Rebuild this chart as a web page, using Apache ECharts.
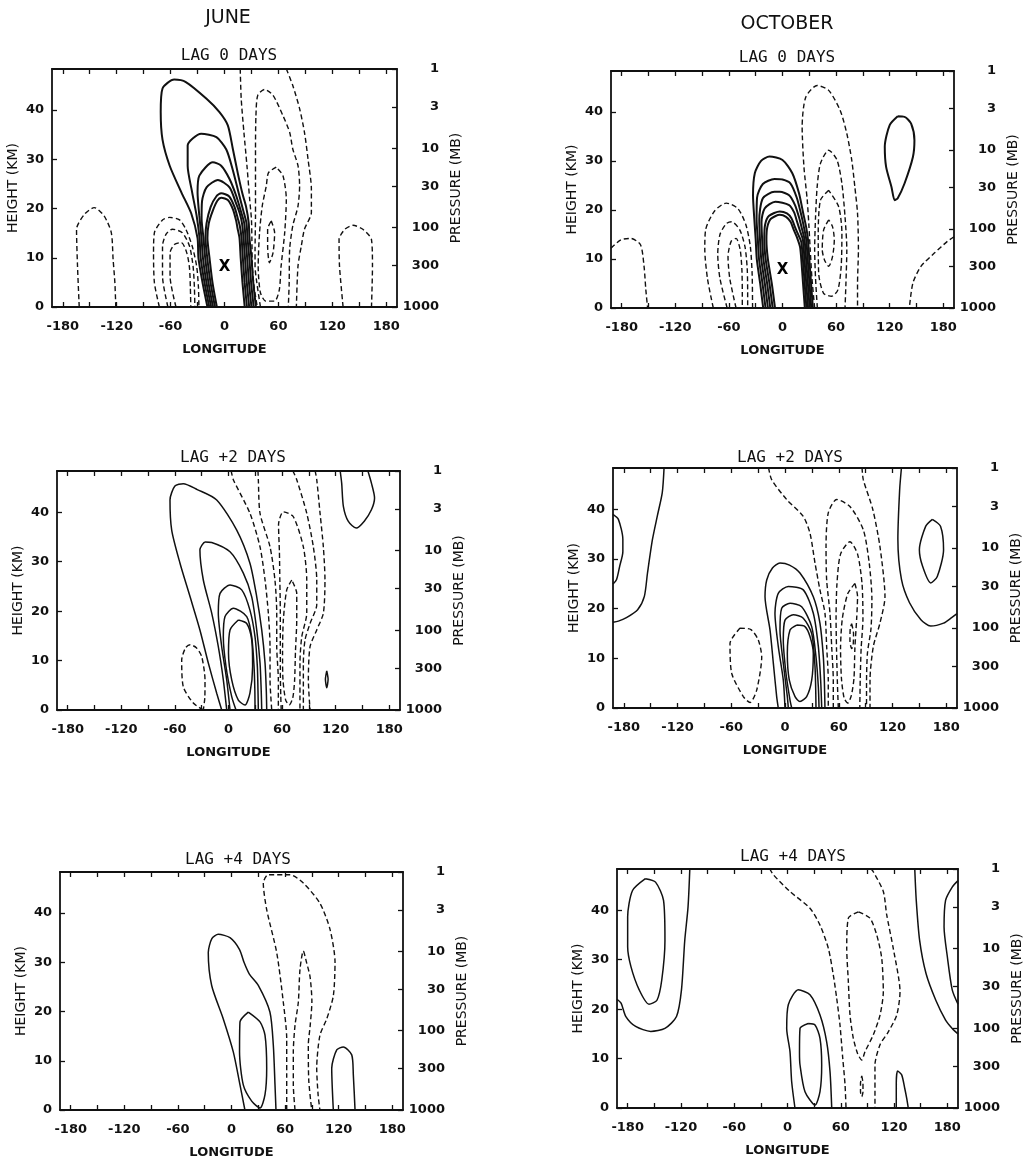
<!DOCTYPE html>
<html>
<head>
<meta charset="utf-8">
<script src="https://cdn.jsdelivr.net/npm/echarts@6/dist/echarts.min.js"></script>
<style>
  html, body { margin: 0; padding: 0; background: #fff; }
  #chart { width: 1032px; height: 1160px; }
</style>
</head>
<body>
<div id="chart"></div>
<script>
// ---------- axis tick values and titles ----------
const lonTicks = [-180, -150, -120, -90, -60, -30, 0, 30, 60, 90, 120, 150, 180];
const lonLabels = [-180, -120, -60, 0, 60, 120, 180];
const heightLabels = [0, 10, 20, 30, 40];
const pressureLabels = [1, 3, 10, 30, 100, 300, 1000];   // mb
const monthTitles = ['JUNE', 'OCTOBER'];
const lagTitles = ['LAG 0 DAYS', 'LAG +2 DAYS', 'LAG +4 DAYS'];

// ---------- contours: [longitude, height km] polylines ----------
// June, lag 0
const junLag0Solid = [
  [[-19,0],[-24.5,5],[-29,10],[-30,14],[-37,19],[-48,23.3],[-61,28.7],[-69,34],[-71,39.6],[-69,44.4],[-56,46.2],[-43,45.7],[-20,42.3],[-5.6,39.6],[3.7,36.9],[9.3,32.1],[15,27],[20,23],[24,20.4],[27,17],[27.8,14],[30,10],[32,5],[35,0]],
  [[-17,0],[-22.3,5],[-26.5,10],[-27.8,14],[-31,18.5],[-36,23.3],[-41,28.7],[-41,32.8],[-26,35.2],[-9,34.5],[2,32],[9,28],[16,23],[21,19.5],[24.5,17],[25.6,14],[27.6,10],[29.6,5],[32.5,0]],
  [[-14.9,0],[-20.1,5],[-24,10],[-25.6,14],[-28,18.5],[-30,23.3],[-28,26.7],[-13,29.4],[-3.7,28.7],[5.6,26],[13,22.6],[19,19],[22,17],[23.4,14],[25.2,10],[27.2,5],[30,0]],
  [[-12.8,0],[-17.9,5],[-21.5,10],[-23.4,14],[-25.5,18],[-25,21.5],[-20,24.3],[-7.4,25.8],[5.6,24.3],[13,21],[17,19],[19.5,17],[21.2,14],[22.8,10],[24.8,5],[27.5,0]],
  [[-10.6,0],[-15.6,5],[-19.2,10],[-21.2,14],[-20,17],[-15.5,20.3],[-9,22.5],[-3.7,23.1],[5,22.5],[11,20.4],[14.8,18],[17,16.5],[19,14],[20.4,10],[22.4,5],[25,0]],
  [[-8.5,0],[-13.4,5],[-16.7,10],[-19,14],[-17.5,17],[-13,19.6],[-8,21.6],[-3.7,22.2],[4,21.7],[9.5,19.8],[13,17.5],[14.5,16],[16.7,14],[18,10],[20,5],[22.5,0]]
];
const junLag0Dashed = [
  [[-161.7,0],[-163.6,8.3],[-164.7,15.8],[-156,18.8],[-145,20.2],[-134,18.5],[-126,15.1],[-124,9.7],[-122,4.9],[-121,0]],
  [[-72.5,0],[-78,4.9],[-79,11],[-78,15.1],[-69,17.7],[-61,18.2],[-50,17.7],[-43,15.8],[-36,12.4],[-31,8.3],[-29,4],[-28.5,0]],
  [[-63,0],[-69,6.3],[-69,12.4],[-65,14.8],[-58,15.8],[-47,15.1],[-39,12.4],[-35,8.3],[-33.5,4],[-33,0]],
  [[-54,0],[-60.6,6.3],[-60.6,11],[-55.8,12.7],[-48,13.1],[-42,11],[-39,8],[-38,4],[-37.5,0]],
  [[17.5,48.4],[18.6,42.3],[21.6,35.5],[25,28.7],[28,21.9],[30,17.8],[30.5,13.7],[31,8.3],[33,4],[36.5,0]],
  [[40,0],[36,4.9],[34,8.3],[34,11.7],[34.5,18.5],[34.5,25.3],[34.5,32.1],[35,38.9],[37,43],[44.6,44.2],[54,43],[65,38.9],[72.5,35.5],[76,32.1],[81.8,28.7],[83.6,24.6],[81.8,20.5],[76,16.5],[72.5,11.7],[72,4.9],[71,0]],
  [[57.6,28.4],[49,27.3],[46.5,24.6],[42,20.5],[39,15.1],[37.5,8.3],[40,2.9],[46,1.2],[55.8,1.2],[61,3.5],[63,8.3],[67,15.1],[68.8,21.9],[65,26.7],[57.6,28.4]],
  [[52,17.5],[55.8,15.1],[54,11],[50,9],[48,12.4],[48,15.8],[52,17.5]],
  [[68.8,48.4],[76,45],[83.6,40.3],[89,35.5],[93,30],[96.7,24],[96.7,19.2],[89,15.8],[85.5,12.4],[81.8,8.3],[80,0]],
  [[132,0],[128,8.3],[127.5,13.7],[134,15.8],[143,16.6],[154,15.8],[163.6,13.7],[164.7,8.3],[163.6,0]]
];
const junLag0Center = [[0, 8.2]];

// October, lag 0
const octLag0Solid = [
  [[-21.6,0],[-25,5],[-28.8,10],[-30,14],[-31.5,18],[-33,23],[-31,27.5],[-24,30],[-14.6,30.9],[0,30.2],[11,27.5],[18.5,23.4],[23,19.5],[26.5,16.5],[28.5,14],[30,10],[32,5],[34,0]],
  [[-19,0],[-22.4,5],[-26.3,10],[-27.6,14],[-29,18],[-28.5,22.5],[-22,25.3],[-9,26.3],[0,26.2],[9,25.4],[16,22.5],[21,19],[24.2,16.3],[26.6,14],[28.2,10],[30.2,5],[32.2,0]],
  [[-16.3,0],[-19.8,5],[-23.8,10],[-25.2,14],[-26,18],[-22,22.4],[-9,23.7],[-3,23.7],[7.4,23],[14,21],[18.5,18.5],[22,16],[24.6,14],[26.4,10],[28.4,5],[30.4,0]],
  [[-13.7,0],[-17.2,5],[-21.4,10],[-22.8,14],[-23.5,17.5],[-20,20.3],[-8,21.7],[7.4,21],[13,19.5],[16.5,17.5],[20,15.5],[22.8,14],[24.6,10],[26.6,5],[28.6,0]],
  [[-11,0],[-14.6,5],[-18.9,10],[-20.4,14],[-19.5,17],[-15,18.8],[-3,19.7],[5,19.3],[10,18.3],[14,16.5],[17.5,15],[21,13.5],[22.8,10],[24.8,5],[26.8,0]],
  [[-8.4,0],[-12,5],[-16.4,10],[-18,14],[-17,16.5],[-13,18.2],[-3,19],[4,18.6],[9,17.6],[12.5,16],[16,14.5],[19.6,12.5],[21,10],[23,5],[25,0]],
  [[129,39.1],[120,37.3],[114.5,32.9],[116,28.8],[122,24.7],[125.6,22],[129,22.4],[136.6,25.4],[146,30.8],[147.7,34.2],[144,37.6],[136.6,39],[129,39.1]]
];
const octLag0Dashed = [
  [[-192,12.2],[-181,13.9],[-170,14.2],[-159,12.9],[-155,8.5],[-153,3.7],[-151,0]],
  [[-77.5,0],[-84,6],[-87,12],[-86,16],[-76,19.8],[-63,21.4],[-50,20.3],[-41,17],[-36,12.5],[-34,7],[-33.5,0]],
  [[-62,0],[-70,6],[-72.5,11],[-70,15],[-63,17.2],[-57,17.6],[-48,16],[-42,12.5],[-39.5,8],[-39,3],[-39,0]],
  [[-52,0],[-59,6],[-61,10.5],[-57.5,13.6],[-52,14.2],[-47.5,12],[-45.5,8],[-45,3],[-45,0]],
  [[36,0],[33,6],[31,12],[29.5,17],[27.7,22],[24,28.8],[22,37],[26,43],[38.8,45.4],[51.7,44.4],[64.6,40.3],[72,35.6],[77.5,30.2],[81,24.7],[84,19.3],[85,11.9],[84,5],[84,0]],
  [[39,0],[37,6],[36,12],[37,18.6],[38.8,24.7],[42.5,29.5],[51.7,32.2],[61,30.2],[66.5,25.4],[70,18.6],[72,11.9],[71,5],[70,0]],
  [[51.7,24],[42.5,22],[40,15.3],[40.5,7.1],[46,3],[55,2.4],[62,3.7],[65.7,8.5],[66.5,15.3],[62.8,20.7],[51.7,24]],
  [[51.7,18],[46,15.9],[44.5,11.9],[47,9.8],[51.7,8.5],[56,10.5],[58,13.9],[56,16.6],[51.7,18]],
  [[192,14.5],[184.6,13.6],[170,11.2],[155,8.5],[146,5.1],[142,0]]
];
const octLag0Center = [[0, 7.8]];

// June, lag +2
const junLag2Solid = [
  [[-7.6,0],[-13.2,3.4],[-22.6,9.5],[-32,16.2],[-43,22.9],[-54.3,29.7],[-63.6,36.4],[-65.5,42.5],[-60,45.3],[-50.6,45.8],[-35,44.6],[-13.2,42.5],[9.2,36.4],[24,29.7],[31.6,22.9],[37.2,16.2],[40.9,9.5],[42.3,4],[42.8,0]],
  [[-2,0],[-5.8,6.1],[-11.4,12.8],[-18.8,19.6],[-28.2,26.3],[-32,32.4],[-26,34],[-18.8,33.9],[1.7,32],[16.6,27.7],[26,22.9],[31.6,16.2],[35.3,9.5],[36.6,4],[37.2,0]],
  [[1.7,0],[-2,6.1],[-7.6,12.8],[-11.4,19.6],[-9.5,23.6],[1.7,25.3],[14.8,24.3],[24,20.2],[29.7,14.8],[32.3,8.8],[33,4],[33.4,0]],
  [[8.4,0],[3.6,2.7],[-2.8,8.8],[-5.8,14.8],[-3.9,18.9],[5.4,20.6],[20.4,18.9],[26,14.8],[28.6,8.8],[29.5,4],[29.7,0]],
  [[11,18.2],[1.7,16.2],[0,11.5],[3.6,6.1],[11,2],[18.5,1],[24,3.4],[27,8.8],[26,14.2],[20.4,17.5],[11,18.2]],
  [[125,48.4],[126.7,45.9],[128.6,41.2],[134,38.2],[143,36.8],[152,38.2],[160,40.5],[163.5,42.9],[160,45.9],[156,48.4]],
  [[110,7.9],[111.5,6.2],[110,4.5],[108.5,6.2],[110,7.9]]
];
const junLag2Dashed = [
  [[-28.2,0],[-39.4,1.4],[-50.6,4.7],[-52.4,10.1],[-48,12.6],[-43,13.2],[-36,12.6],[-30,10.8],[-26.3,6.1],[-26.5,2.5],[-28.2,0]],
  [[3,48.4],[5.4,46.6],[24,39.8],[35.3,33],[40.9,26.3],[44.6,19.6],[46.5,12.8],[46.5,6.1],[48.4,0]],
  [[33,48.4],[33.4,46.6],[35.3,39.8],[46.5,33],[52,26.3],[54,19.6],[54,12.8],[55.8,6.1],[55.8,0]],
  [[59,0],[58.5,3],[58,8],[58,14],[58,20],[57.5,26],[57,32],[56,37.5],[61.4,40.1],[72.6,39.1],[83.8,33],[87.6,26.3],[87.6,19.6],[82,14.8],[80,9.5],[80,2.7],[80,0]],
  [[70.8,26.3],[65.2,24.3],[61.4,18.2],[60.5,11.5],[61,6.1],[64,2],[68,1],[72,2.5],[74,6],[75,12],[76.4,18.2],[76.4,23.6],[70.8,26.3]],
  [[72,48.4],[76.4,46.6],[87.6,39.8],[95,33],[98.8,26.3],[98.8,21.3],[91.3,17.5],[85.7,14.2],[83.8,9.5],[83.8,0]],
  [[97,48.4],[98.8,46.6],[102.5,39.8],[106.2,33],[108,26.3],[106.2,19.6],[98.8,16.2],[91.3,12.8],[89.4,6.1],[91.3,0]]
];

// October, lag +2
const octLag2Solid = [
  [[-7.5,0],[-9.3,2.3],[-13,9],[-16.7,15.7],[-22.3,22.4],[-20.4,25.8],[-14,28.2],[-5.6,29.2],[5,28.8],[16.7,27.2],[31.6,22.4],[39,17.1],[42.8,10.3],[44,5],[44.6,0]],
  [[0,0],[-1.9,5.6],[-7.5,12.4],[-11.2,19.1],[-7.5,23.1],[3.7,24.5],[20.4,23.8],[31.6,19.1],[37.2,12.4],[39.8,5.6],[41,0]],
  [[3.7,0],[2.6,2.3],[-1.9,9],[-5.6,15.7],[-3.7,20.1],[5.6,21.1],[18.6,20.4],[29.8,16.4],[34.6,10.3],[37.2,4.3],[38,0]],
  [[7.5,0],[5.6,1.6],[1.1,7],[-1.9,13.7],[0,17.7],[9.3,18.8],[20.4,18.1],[29.8,15],[33.5,8.3],[34.6,0]],
  [[13,16.7],[5.6,15.7],[2.6,11],[4.8,5.6],[11.2,2.3],[16.7,1.3],[24.2,2.3],[29.8,5.6],[31.6,11],[27.9,14.4],[22.3,16.4],[13,16.7]],
  [[-135,48.4],[-137,43.4],[-142.5,38.7],[-148,33.9],[-153.5,27.2],[-157,22.5],[-164.5,19.8],[-177,18.2],[-186,17.5],[-192,17.3]],
  [[-192,39],[-186,38],[-181,34],[-181,31.5],[-184.5,28.6],[-188,25.9],[-192,25]],
  [[130,48.4],[128,44],[126,34],[130,25.9],[139,21.2],[151.7,17.8],[162.6,16.5],[177,17.1],[186,18.2],[192,19]],
  [[164.5,38],[157,36.6],[150,31.9],[153.5,28.6],[162.6,25.2],[170,26.5],[177,31.9],[173.6,36.6],[164.5,38]]
];
const octLag2Dashed = [
  [[-50.2,16.1],[-61.4,13],[-59.5,7],[-46.5,2.3],[-39,1.1],[-31.6,3.6],[-26,10.3],[-29.8,13.7],[-38,15.8],[-50.2,16.1]],
  [[-18.3,48.4],[-14.9,46],[1.9,42],[20.4,38.6],[27.9,35.2],[33.5,29.2],[39,23.8],[44.6,19.1],[46.5,12.4],[48.3,5.6],[48.3,0]],
  [[53.9,0],[53.9,5.6],[52.1,12.4],[50.2,19.1],[46.5,25.8],[45.8,32.5],[48.3,39.3],[57.7,42],[72.5,40.6],[87.4,35.9],[94,29.2],[97,22],[96,16],[92,11],[91,5],[91,0]],
  [[59.5,0],[58.5,5],[57.5,12],[57,18],[58,25],[62,31],[72.5,33.5],[81,31],[86,25],[87,18],[85,12],[84,6],[83.5,0]],
  [[78,25.1],[70,23],[64,18],[62,12],[63,6],[66,2],[70,1],[74,2.5],[77,6],[78,12],[80,18],[81,22.5],[78,25.1]],
  [[74.4,17],[76.5,15],[76,12.5],[74.4,12],[72.5,13.5],[72.8,16],[74.4,17]],
  [[86,48.4],[87.4,46],[98,40],[106,32.5],[111.6,22.4],[106,17.1],[98.6,12.4],[94.9,5.6],[94.9,0]]
];

// June, lag +4
const junLag4Solid = [
  [[15,0],[9.5,5.1],[2,11.8],[-9.2,18.5],[-22.2,25.3],[-26,32],[-22,34.8],[-14.8,35.7],[-1.7,35],[9,32.6],[14,30],[20,27.6],[30,25.3],[43,19.9],[46.8,13.2],[48.7,5.1],[49.8,0]],
  [[18.8,19.9],[9.5,17.9],[9,11.8],[13.2,5.1],[22.6,1.8],[31.9,0.4],[37.5,3.1],[39.4,8.5],[37.5,15.2],[31.9,17.9],[18.8,19.9]],
  [[114,0],[112.2,8.5],[117.8,12.2],[125.2,12.8],[134.6,11.2],[136.4,7.1],[138.3,0]]
];
const junLag4Dashed = [
  [[61.8,0],[61.8,7],[61.8,14.5],[58,21.9],[50.6,32],[39.4,40.7],[35.6,46.1],[41.2,47.8],[65.5,47.8],[80.4,46.1],[99,42],[110.3,36.7],[115.9,30],[114,23.2],[106.6,18.5],[99,15.2],[95.4,8.5],[97,3],[99,0]],
  [[71.1,0],[69.2,5.1],[69.2,11.8],[71.1,17.2],[74.8,21.9],[76.7,28.6],[80.4,32.3],[84,30],[88,27],[90,22],[88,17],[86,13.2],[86.5,6],[89.8,0]]
];

// October, lag +4
const octLag4Solid = [
  [[-192,22],[-187.4,21.2],[-182,18.5],[-171,16.5],[-154,15.5],[-138,16.1],[-125,18.5],[-119.4,23.9],[-115.7,33.9],[-112,40.7],[-110,48.4]],
  [[-160,46.4],[-174.5,44],[-180,38.7],[-180,32.6],[-176.3,28.6],[-167,23.9],[-156,21],[-147,21.8],[-141.6,25.9],[-138,33.9],[-139.6,42],[-148.6,45.7],[-160,46.4]],
  [[143.3,48.4],[145,42],[148.8,33.9],[156,27.2],[167,21.8],[178,17.8],[185.5,16.1],[192,15]],
  [[192,46],[185.5,44.7],[178,42],[176.3,36.6],[180,30.6],[185.5,23.9],[192,21]],
  [[8.4,0],[4.7,5.3],[2.8,11.4],[-0.9,16.1],[0.9,20.9],[12.2,23.9],[25.3,22.9],[36.6,18.8],[44.1,13.4],[47.9,7.3],[49.8,0]],
  [[23.4,17.1],[14.1,16.1],[13.5,11.2],[14.1,8.7],[19.7,3.3],[31,0.6],[36.6,3.3],[38.5,8.7],[36.6,14.1],[31,16.8],[23.4,17.1]],
  [[122.5,0],[122.5,5],[124,7.5],[128.6,6.7],[132,4],[134.2,2],[136,0]]
];
const octLag4Dashed = [
  [[-20,48.4],[-16,47.2],[2.8,43.8],[25.3,40.4],[36.6,37],[46,32.3],[51.6,26.9],[55.4,22.2],[59.1,16.8],[62.2,10.1],[64.8,4.7],[65.9,0]],
  [[79.7,39.7],[68.5,38.4],[66.7,32.3],[68.5,25.6],[70.4,18.8],[74.1,14.1],[79,11],[83.6,9.7],[87.3,11.4],[96.6,14.8],[104.2,18.8],[107.9,23.5],[106.1,30.3],[100.5,35],[92.9,38.4],[79.7,39.7]],
  [[94,48.4],[96.6,47.8],[107.9,43.8],[111.7,39.1],[119.1,32.3],[126.7,23.5],[123,18.8],[113.5,15.4],[104.2,12.8],[98.5,8.7],[98.5,0]],
  [[83.6,6.5],[85,5],[85,3.3],[83.6,2.3],[82.2,3.3],[82.2,5],[83.6,6.5]]
];

// ---------- page layout ----------
const FONT = 'DejaVu Sans';
const SCALE_HEIGHT = 7;                        // km, log-pressure height
const heightOf = p => SCALE_HEIGHT * Math.log(1000 / p);
const topHeight = heightOf(1);
const lonMin = -192, lonMax = 192;

const panels = [
  { box: { left: 52,  top: 69,  width: 345, height: 238 }, title: lagTitles[0], titleAt: [224, 43],  solid: junLag0Solid, dashed: junLag0Dashed, center: junLag0Center, solidWidth: 2 },
  { box: { left: 611, top: 71,  width: 343, height: 237 }, title: lagTitles[0], titleAt: [782, 45],  solid: octLag0Solid, dashed: octLag0Dashed, center: octLag0Center, solidWidth: 2 },
  { box: { left: 57,  top: 471, width: 343, height: 239 }, title: lagTitles[1], titleAt: [228, 445], solid: junLag2Solid, dashed: junLag2Dashed },
  { box: { left: 613, top: 468, width: 344, height: 240 }, title: lagTitles[1], titleAt: [785, 445], solid: octLag2Solid, dashed: octLag2Dashed },
  { box: { left: 60,  top: 872, width: 343, height: 240 }, title: lagTitles[2], titleAt: [233, 847], solid: junLag4Solid, dashed: junLag4Dashed },
  { box: { left: 617, top: 869, width: 341, height: 239 }, title: lagTitles[2], titleAt: [788, 844], solid: octLag4Solid, dashed: octLag4Dashed }
];

const lineAxis = { show: true, onZero: false, lineStyle: { color: '#111', width: 1.8 } };
const tickStyle = { show: true, inside: true, length: 5, lineStyle: { color: '#111', width: 1.3 } };
const numLabel = { color: '#111', fontFamily: FONT, fontWeight: 'bold', fontSize: 13 };

const option = {
  backgroundColor: '#fff',
  animation: false,
  title: [
    { text: monthTitles[0], left: 223, top: 4, textAlign: 'center', textStyle: { fontFamily: FONT, fontSize: 19, fontWeight: 'normal', color: '#111' } },
    { text: monthTitles[1], left: 782, top: 10, textAlign: 'center', textStyle: { fontFamily: FONT, fontSize: 19, fontWeight: 'normal', color: '#111' } }
  ],
  grid: [], xAxis: [], yAxis: [], series: []
};

panels.forEach((p, i) => {
  option.title.push({
    text: p.title, left: p.titleAt[0], top: p.titleAt[1], textAlign: 'center',
    textStyle: { fontFamily: 'DejaVu Sans Mono', fontSize: 16, fontWeight: 'normal', color: '#111' }
  });
  option.grid.push(Object.assign({ containLabel: false }, p.box));

  // bottom longitude axis
  option.xAxis.push({
    gridIndex: i, type: 'value', position: 'bottom', min: lonMin, max: lonMax,
    name: 'LONGITUDE', nameLocation: 'middle', nameGap: 36,
    nameTextStyle: { fontFamily: FONT, fontWeight: 'bold', fontSize: 13, color: '#111' },
    axisLine: lineAxis,
    axisTick: Object.assign({ customValues: lonTicks }, tickStyle),
    axisLabel: Object.assign({ customValues: lonLabels, margin: 13 }, numLabel),
    splitLine: { show: false }
  });
  // top frame with ticks
  option.xAxis.push({
    gridIndex: i, type: 'value', position: 'top', min: lonMin, max: lonMax,
    axisLine: lineAxis,
    axisTick: Object.assign({ customValues: lonTicks }, tickStyle),
    axisLabel: { show: false }, splitLine: { show: false }
  });
  // left height axis
  option.yAxis.push({
    gridIndex: i, type: 'value', position: 'left', min: 0, max: topHeight,
    name: 'HEIGHT (KM)', nameLocation: 'middle', nameGap: 32, nameRotate: 90,
    nameTextStyle: { fontFamily: FONT, fontSize: 14, color: '#111' },
    axisLine: lineAxis,
    axisTick: Object.assign({ customValues: heightLabels }, tickStyle),
    axisLabel: Object.assign({ customValues: heightLabels, margin: 8 }, numLabel),
    splitLine: { show: false }
  });
  // right log-pressure axis
  option.yAxis.push({
    gridIndex: i, type: 'value', position: 'right', min: 0, max: topHeight,
    name: 'PRESSURE (MB)', nameLocation: 'middle', nameGap: 52, nameRotate: 90,
    nameTextStyle: { fontFamily: FONT, fontSize: 14, color: '#111' },
    axisLine: lineAxis,
    axisTick: Object.assign({ customValues: pressureLabels.map(heightOf) }, tickStyle),
    axisLabel: Object.assign({
      customValues: pressureLabels.map(heightOf), margin: 42, align: 'right',
      formatter: v => {
        let best = pressureLabels[0], d = Infinity;
        pressureLabels.forEach(pr => { const e = Math.abs(heightOf(pr) - v); if (e < d) { d = e; best = pr; } });
        return String(best);
      }
    }, numLabel),
    splitLine: { show: false }
  });

  const xi = 2 * i, yi = 2 * i;
  p.solid.forEach(c => option.series.push({
    type: 'line', xAxisIndex: xi, yAxisIndex: yi, data: c, showSymbol: false, smooth: 0.25,
    lineStyle: { color: '#111', width: p.solidWidth || 1.5, type: 'solid' }, silent: true
  }));
  p.dashed.forEach(c => option.series.push({
    type: 'line', xAxisIndex: xi, yAxisIndex: yi, data: c, showSymbol: false, smooth: 0.25,
    lineStyle: { color: '#111', width: 1.4, type: [5, 3] }, silent: true
  }));
  if (p.center) {
    option.series.push({
      type: 'scatter', xAxisIndex: xi, yAxisIndex: yi, data: p.center,
      symbol: 'circle', symbolSize: 1, itemStyle: { color: 'rgba(0,0,0,0)', opacity: 1 },
      label: { show: true, position: 'inside', formatter: 'X', fontFamily: FONT, fontWeight: 'bold', fontSize: 15, color: '#000', opacity: 1, textBorderWidth: 0 },
      silent: true
    });
  }
});

const chart = echarts.init(document.getElementById('chart'), null, { renderer: 'canvas' });
chart.setOption(option);
</script>
</body>
</html>
